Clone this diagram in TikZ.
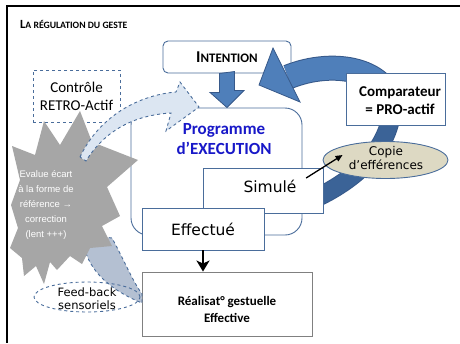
\documentclass[tikz,border=0pt]{standalone}
\usepackage{fontspec}
\setmainfont{Carlito}
\newfontfamily\comicfont{DejaVu Sans}
\newfontfamily\arialfont{Liberation Sans}
\usetikzlibrary{shapes.geometric,arrows.meta}

\definecolor{boxline}{HTML}{4A6D9B}
\definecolor{arrowfill}{HTML}{4F7FBA}
\definecolor{arrowdark}{HTML}{3B6397}
\definecolor{arrowline}{HTML}{37598A}
\definecolor{retrofill}{HTML}{DCE6F2}
\definecolor{feedfill}{HTML}{B4C0D2}
\definecolor{starfill}{HTML}{A6A6A6}
\definecolor{copiefill}{HTML}{DDD9C3}
\definecolor{progblue}{HTML}{1818C8}

\tikzset{
  box/.style={draw=boxline, fill=white, line width=0.9pt, inner sep=0pt},
  dashbox/.style={draw=boxline, dashed, line width=0.9pt, inner sep=0pt},
  lbl/.style={inner sep=0pt, align=center},
  blockarrow/.style={fill=arrowfill, draw=arrowline, line width=0.8pt, line join=miter}
}

\begin{document}
\begin{tikzpicture}[x=1pt,y=-1pt]
\useasboundingbox (0,0) rectangle (460,343);

% cadre
\draw[line width=2.5pt] (460,6) -- (7,6) -- (7,343);
\node[lbl, anchor=west] (titre) at (20,24) {\bfseries{\fontsize{12.5}{14}\selectfont L}{\fontsize{9.7}{12}\selectfont A RÉGULATION DU GESTE}};

% retro
\node[dashbox, fill=white, minimum width=87, minimum height=52] (controle) at (76.5,96) {};
\node[lbl, font=\fontsize{15}{18}\selectfont] (controletxt) at (76.5,96) {Contrôle\\RETRO-Actif};

% programme
\node[box, rounded corners=17pt, minimum width=171, minimum height=127] (programme) at (216.5,171.5) {};
\node[lbl, text=progblue, font=\bfseries\fontsize{17}{20}\selectfont] (progtxt) at (224,139) {Programme\\d’EXECUTION};

\node[box, rounded corners=5pt, minimum width=128, minimum height=32] (intention) at (227,57)
  {\bfseries{\fontsize{16.5}{18}\selectfont I}{\fontsize{13}{15}\selectfont NTENTION}};
\draw[blockarrow] ([xshift=-7.5pt]intention.south) -- ++(0,19) -- ++(-9.5,0)
  -- (intention.south |- programme.north) -- ++(17,-17) -- ++(-9.5,0) -- ++(0,-19) -- cycle;

% boucle pro-active
\draw[line width=19pt, arrowline] (305,203) .. controls (355,182) and (388,150) .. (392,110);
\draw[line width=17pt, arrowdark] (305,203) .. controls (355,182) and (388,150) .. (392,110);
\draw[line width=25pt, arrowline] (392,110) .. controls (390,70) and (335,58) .. (288,77);
\draw[line width=23pt, arrowfill] (392,110) .. controls (390,70) and (335,58) .. (288,77);
\draw[blockarrow] (273,48) -- (259,85) -- (300,102) -- cycle;

\node[box, minimum width=99, minimum height=52] (comparateur) at (395.5,99) {};
\node[lbl, font=\bfseries\fontsize{15}{18}\selectfont] (comptxt) at (400,101) {Comparateur\\= PRO-actif};

\node[box, minimum width=120, minimum height=45] (simule) at (263,190.5) {};
\node[lbl, font=\comicfont\fontsize{15.5}{18}\selectfont] (simuletxt) at (270,186) {Simulé};
\node[box, minimum width=122, minimum height=42, font=\comicfont\fontsize{15.5}{18}\selectfont] (effectue) at (203,229) {Effectué};

\node[ellipse, draw=boxline, fill=copiefill, line width=0.9pt, minimum width=125, minimum height=37, inner sep=0pt] (copie) at (385.5,160) {};
\node[lbl, font=\comicfont\fontsize{12}{14}\selectfont] (copietxt) at (386,158) {Copie\\d’efférences};
\draw[line width=1.3pt, -{Triangle[length=7pt,width=6pt]}] ([xshift=9.5pt,yshift=8pt]simuletxt.east) -- ([xshift=20pt,yshift=5pt]copie.west);

% realisation
\node[draw=gray, fill=white, line width=0.9pt, minimum width=170, minimum height=64, inner sep=0pt] (realisat) at (227,304) {};
\node[lbl, font=\bfseries\fontsize{13}{17}\selectfont] (realtxt) at (227,309) {Réalisat° gestuelle\\Effective};
\draw[line width=2.6pt, -{Stealth[length=11pt,width=13pt,inset=3pt]}] (effectue.south) -- (effectue.south |- realisat.north);

% feed-back
\draw[dashbox, fill=feedfill] (85,235) -- (112,238) .. controls (125,262) and (132,280) .. (142,294)
  -- (142,303) .. controls (115,292) and (92,275) .. (85,250) -- cycle;

% etoile
\fill[starfill] (80,111) -- (92,142) -- (138,160) -- (107,187) -- (120,216) -- (102,226)
  -- (112,246) -- (90,248) -- (82,264) -- (70,256) -- (57,270) -- (50,262) -- (44,284)
  -- (36,266) -- (24,276) -- (22,258) -- (10,248) -- (18,228) -- (11,205) -- (20,180)
  -- (12,146) -- (35,155) -- (44,121) -- (60,145) -- cycle;
\node[lbl, text=white, font=\arialfont\fontsize{9.5}{15}\selectfont] (evalue) at (46,205)
  {Evalue écart\\à la forme de\\référence →\\correction\\(lent +++)};

\draw[dashbox, fill=retrofill] (80,157) .. controls (100,115) and (140,95) .. (176,92)
  -- (180,82) -- (199,107) -- (166,131) -- (171,113) .. controls (135,115) and (105,130) .. (86,161) -- cycle;

\node[ellipse, dashbox, minimum width=106, minimum height=30] (feedback) at (87,297) {};
\node[lbl, font=\comicfont\fontsize{11.5}{13}\selectfont] (feedtxt) at (87,299) {Feed-back\\sensoriels};

\end{tikzpicture}
\end{document}
